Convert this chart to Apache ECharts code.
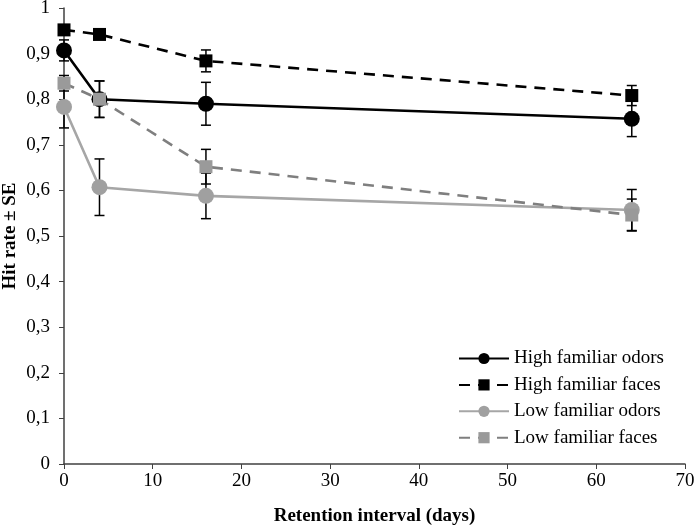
<!DOCTYPE html>
<html>
<head>
<meta charset="utf-8">
<script src="https://cdn.jsdelivr.net/npm/echarts@6/dist/echarts.min.js"></script>
<style>html,body{margin:0;padding:0;background:#fff}#c{width:696px;height:527px}</style>
</head>
<body>
<div id="c"></div>
<script>
const days = [0, 4, 16, 64];
const seriesNames = ['High familiar odors', 'High familiar faces', 'Low familiar odors', 'Low familiar faces'];
const highOdors = [0.907, 0.800, 0.790, 0.757];
const highOdorsSE = [0.023, 0.040, 0.047, 0.039];
const highFaces = [0.952, 0.942, 0.884, 0.808];
const highFacesSE = [0.008, 0.010, 0.024, 0.022];
const lowOdors = [0.783, 0.607, 0.588, 0.557];
const lowOdorsSE = [0.046, 0.062, 0.050, 0.045];
const lowFaces = [0.835, 0.800, 0.652, 0.546];
const lowFacesSE = [0.017, 0.040, 0.038, 0.035];

const FONT = '"Liberation Serif", "DejaVu Serif", serif';
const FS = 19;

function pairs(v) { return days.map((d, i) => [d, v[i]]); }
function errData(v, se) { return days.map((d, i) => [d, v[i] - se[i], v[i] + se[i]]); }

function errSeries(v, se) {
  return {
    type: 'custom',
    data: errData(v, se),
    z: 1,
    silent: true,
    encode: { x: 0, y: [1, 2] },
    renderItem: function (params, api) {
      const x = api.value(0);
      const lo = api.coord([x, api.value(1)]);
      const hi = api.coord([x, api.value(2)]);
      const w = 5;
      const st = { stroke: '#000', lineWidth: 1.5 };
      return {
        type: 'group',
        children: [
          { type: 'line', shape: { x1: lo[0], y1: lo[1], x2: hi[0], y2: hi[1] }, style: st },
          { type: 'line', shape: { x1: lo[0] - w, y1: lo[1], x2: lo[0] + w, y2: lo[1] }, style: st },
          { type: 'line', shape: { x1: hi[0] - w, y1: hi[1], x2: hi[0] + w, y2: hi[1] }, style: st }
        ]
      };
    }
  };
}

function lineSeries(name, v, color, markerColor, symbol, size, dashed) {
  return {
    name: name,
    type: 'line',
    data: pairs(v),
    z: 3,
    symbol: symbol,
    symbolSize: size,
    showAllSymbol: true,
    lineStyle: { color: color, width: 2.6, type: dashed ? [11, 8] : 'solid' },
    itemStyle: { color: markerColor, borderWidth: 0 },
    emphasis: { disabled: true }
  };
}

const chart = echarts.init(document.getElementById('c'), null, { renderer: 'canvas' });
chart.setOption({
  backgroundColor: '#fff',
  animation: false,
  grid: { left: 64, right: 11, top: 8, bottom: 63, containLabel: false, outerBoundsMode: 'none' },
  legend: {
    orient: 'vertical',
    left: 453,
    top: 344,
    itemWidth: 50,
    itemHeight: 14,
    itemGap: 7.4,
    textStyle: { fontFamily: FONT, fontSize: FS, color: '#000' },
    data: seriesNames
  },
  xAxis: {
    type: 'value',
    min: 0, max: 70, interval: 10,
    name: 'Retention interval (days)',
    nameLocation: 'middle',
    nameGap: 43,
    nameMoveOverlap: false,
    nameTextStyle: { fontFamily: FONT, fontSize: FS, fontWeight: 'bold', color: '#000' },
    axisLine: { lineStyle: { color: '#404040', width: 1.5 } },
    axisTick: { show: true, inside: false, length: 5, lineStyle: { color: '#404040' } },
    axisLabel: { fontFamily: FONT, fontSize: FS, color: '#000', margin: 8 },
    splitLine: { show: false }
  },
  yAxis: {
    type: 'value',
    min: 0, max: 1, interval: 0.1,
    name: 'Hit rate ± SE',
    nameLocation: 'middle',
    nameGap: 44,
    nameMoveOverlap: false,
    nameTextStyle: { fontFamily: FONT, fontSize: FS, fontWeight: 'bold', color: '#000' },
    axisLine: { show: true, lineStyle: { color: '#404040', width: 1.5 } },
    axisTick: { show: true, inside: false, length: 5, lineStyle: { color: '#404040' } },
    axisLabel: {
      fontFamily: FONT, fontSize: FS, color: '#000', margin: 14,
      formatter: function (v) { return String(Number(v.toFixed(1))).replace('.', ','); }
    },
    splitLine: { show: false }
  },
  series: [
    errSeries(highOdors, highOdorsSE),
    errSeries(highFaces, highFacesSE),
    errSeries(lowOdors, lowOdorsSE),
    errSeries(lowFaces, lowFacesSE),
    lineSeries(seriesNames[0], highOdors, '#000', '#000', 'circle', 16, false),
    lineSeries(seriesNames[1], highFaces, '#000', '#000', 'rect', 13, true),
    lineSeries(seriesNames[2], lowOdors, '#a6a6a6', '#a0a0a0', 'circle', 16, false),
    lineSeries(seriesNames[3], lowFaces, '#7f7f7f', '#9a9a9a', 'rect', 13, true)
  ]
});
</script>
</body>
</html>
